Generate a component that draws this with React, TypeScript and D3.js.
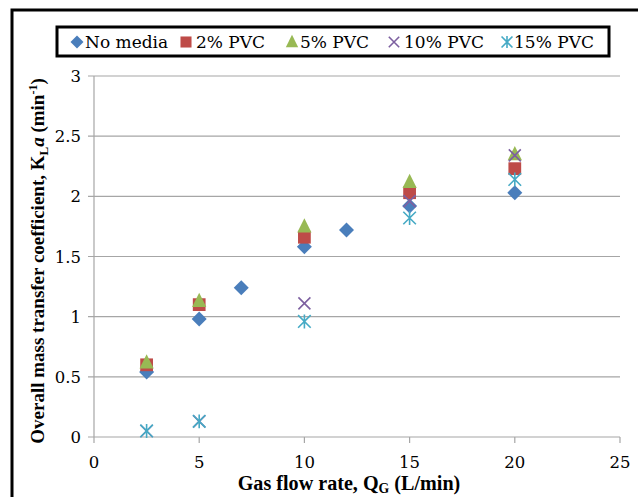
import React from "react";
import * as d3 from "d3";

// gas flow rate (L/min) and KLa (1/min)
const noMediaX = [2.5, 5, 7, 10, 12, 15, 20];
const noMediaY = [0.54, 0.98, 1.24, 1.58, 1.72, 1.92, 2.03];
const pvc2X = [2.5, 5, 10, 15, 20];
const pvc2Y = [0.6, 1.1, 1.66, 2.03, 2.23];
const pvc5X = [2.5, 5, 10, 15, 20];
const pvc5Y = [0.62, 1.13, 1.75, 2.12, 2.35];
const pvc10X = [2.5, 5, 10, 15, 20];
const pvc10Y = [0.05, 0.13, 1.11, 1.96, 2.34];
const pvc15X = [2.5, 5, 10, 15, 20];
const pvc15Y = [0.05, 0.13, 0.96, 1.82, 2.14];

const xTicks = [0, 5, 10, 15, 20, 25];
const yTicks = [0, 0.5, 1, 1.5, 2, 2.5, 3];

const seriesNames = ["No media", "2% PVC", "5% PVC", "10% PVC", "15% PVC"];
const seriesColors = ["#4a7ebb", "#be4b48", "#98b954", "#7d60a0", "#46aac5"];
const seriesShapes = ["diamond", "square", "triangle", "x", "star"];

const W = 638;
const H = 497;
// regular Liberation Serif kept falling back to sans, so regular text uses DejaVu Serif
const FONT = '"DejaVu Serif", serif';
const BOLD_FONT = '"Liberation Serif", serif';
const GRID = "#a6a6a6";

function Marker({ shape, color, cx, cy, s }: { shape: string; color: string; cx: number; cy: number; s: number }) {
  if (shape === "diamond") {
    return <path d={`M${cx},${cy - s / 2}L${cx + s / 2},${cy}L${cx},${cy + s / 2}L${cx - s / 2},${cy}Z`} fill={color} />;
  }
  if (shape === "square") {
    const a = s * 0.85;
    return <rect x={cx - a / 2} y={cy - a / 2} width={a} height={a} fill={color} />;
  }
  if (shape === "triangle") {
    const a = s * 0.95;
    return <path d={`M${cx},${cy - a * 0.58}L${cx + a / 2},${cy + a * 0.42}L${cx - a / 2},${cy + a * 0.42}Z`} fill={color} />;
  }
  if (shape === "x") {
    const a = s * 0.4;
    return (
      <path
        d={`M${cx - a},${cy - a}L${cx + a},${cy + a}M${cx - a},${cy + a}L${cx + a},${cy - a}`}
        stroke={color} strokeWidth={1.6} fill="none"
      />
    );
  }
  const a = s * 0.42;
  return (
    <path
      d={`M${cx - a},${cy - a}L${cx + a},${cy + a}M${cx - a},${cy + a}L${cx + a},${cy - a}M${cx},${cy - a * 1.1}L${cx},${cy + a * 1.1}`}
      stroke={color} strokeWidth={1.6} fill="none"
    />
  );
}

export default function App() {
  const x = d3.scaleLinear().domain([0, 25]).range([94, 620]);
  const y = d3.scaleLinear().domain([0, 3]).range([437, 76]);

  const xs = [noMediaX, pvc2X, pvc5X, pvc10X, pvc15X];
  const ys = [noMediaY, pvc2Y, pvc5Y, pvc10Y, pvc15Y];
  const legendMark = [77, 186, 292, 394, 507];
  const legendText = [85, 196, 300, 404, 514];

  return (
    <svg width={W} height={H} style={{ display: "block", position: "absolute", left: 0, top: 0 }}>
      <rect width={W} height={H} fill="#fff" />
      {/* outer frame */}
      <rect x={12} y={10} width={W + 20} height={H + 20} fill="none" stroke="#000" strokeWidth={3} />

      {/* gridlines */}
      {yTicks.map(t => (
        <line key={t} x1={x(0) - 6} x2={x(25)} y1={y(t)} y2={y(t)} stroke={GRID} strokeWidth={1.2} />
      ))}
      <line x1={x(0)} x2={x(0)} y1={y(3)} y2={y(0)} stroke={GRID} strokeWidth={1.2} />
      {xTicks.map(t => (
        <line key={t} x1={x(t)} x2={x(t)} y1={y(0)} y2={y(0) + 6} stroke={GRID} strokeWidth={1.2} />
      ))}

      {yTicks.map(t => (
        <text key={t} x={81} y={y(t) + 6} textAnchor="end" fontFamily={FONT} fontSize={16.5}>
          {String(t)}
        </text>
      ))}
      {xTicks.map(t => (
        <text key={t} x={x(t)} y={468} textAnchor="middle" fontFamily={FONT} fontSize={16.5}>
          {String(t)}
        </text>
      ))}

      {/* axis titles */}
      <text
        transform="translate(349,490) scale(1.06)"
        textAnchor="middle"
        fontFamily={BOLD_FONT} fontSize={19} fontWeight="bold"
      >
        <tspan>Gas flow rate, Q</tspan>
        <tspan fontSize={13} dy={3}>G</tspan>
        <tspan dy={-3}> (L/min)</tspan>
      </text>
      <text
        transform="translate(44,261) rotate(-90)"
        textAnchor="middle"
        fontFamily={BOLD_FONT} fontSize={19} fontWeight="bold"
      >
        <tspan>Overall mass transfer coefficient, K</tspan>
        <tspan fontSize={13} dy={4}>L</tspan>
        <tspan dy={-4} fontStyle="italic">a</tspan>
        <tspan> (min</tspan>
        <tspan fontSize={12} dy={-7}>-1</tspan>
        <tspan dy={7}>)</tspan>
      </text>

      {/* data points */}
      {xs.map((sx, i) =>
        sx.map((v, j) => (
          <Marker key={`${i}-${j}`} shape={seriesShapes[i]} color={seriesColors[i]} cx={x(v)} cy={y(ys[i][j])} s={15} />
        ))
      )}

      {/* legend */}
      <rect x={57} y={27} width={552} height={29} fill="#fff" stroke="#000" strokeWidth={3} />
      {seriesNames.map((n, i) => (
        <g key={n}>
          <Marker shape={seriesShapes[i]} color={seriesColors[i]} cx={legendMark[i]} cy={42} s={13} />
          <text x={legendText[i]} y={48} fontFamily={FONT} fontSize={17}>
            {n}
          </text>
        </g>
      ))}
    </svg>
  );
}
